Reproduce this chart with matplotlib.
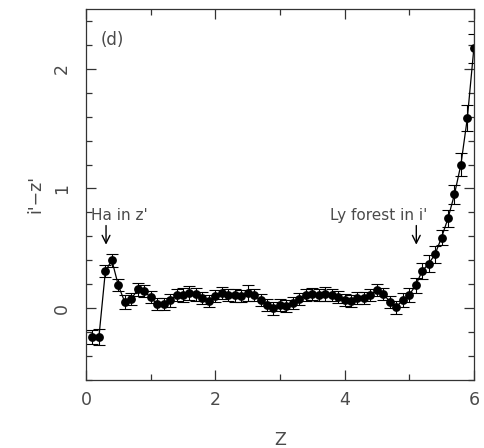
#!/usr/bin/env python3
# -*- coding: utf-8 -*-

import numpy as np
import matplotlib
matplotlib.use("Agg")
import matplotlib.pyplot as plot
from matplotlib.ticker import MultipleLocator

# redshift grid and i'-z' colour
redshift = [round(0.1 * k, 1) for k in range(1, 61)]
colour = [
    -0.24, -0.24, 0.31, 0.40, 0.19, 0.05, 0.075, 0.156, 0.14, 0.09,
    0.033, 0.033, 0.067, 0.106, 0.11, 0.126, 0.116, 0.088, 0.061, 0.10,
    0.124, 0.106, 0.106, 0.10, 0.128, 0.109, 0.064, 0.025, -0.003, 0.025,
    0.017, 0.044, 0.075, 0.106, 0.117, 0.11, 0.12, 0.106, 0.09, 0.064,
    0.056, 0.084, 0.084, 0.11, 0.15, 0.12, 0.053, 0.006, 0.07, 0.11,
    0.19, 0.31, 0.37, 0.45, 0.59, 0.75, 0.95, 1.20, 1.59, 2.17,
]
colour_err = [
    0.06, 0.065, 0.05, 0.055, 0.05, 0.06, 0.05, 0.055, 0.05, 0.05,
    0.05, 0.05, 0.055, 0.05, 0.055, 0.06, 0.055, 0.05, 0.05, 0.05,
    0.05, 0.05, 0.055, 0.05, 0.065, 0.05, 0.05, 0.05, 0.055, 0.05,
    0.05, 0.05, 0.05, 0.05, 0.05, 0.05, 0.06, 0.05, 0.05, 0.05,
    0.05, 0.05, 0.05, 0.05, 0.05, 0.05, 0.05, 0.055, 0.06, 0.06,
    0.065, 0.07, 0.07, 0.07, 0.065, 0.07, 0.08, 0.10, 0.11, 0.12,
]

text_colour = "#4a4a4a"
plot.rcParams["font.family"] = ["DejaVu Sans"]
plot.rcParams["font.size"] = 12.5

fig = plot.figure(figsize=(4.84, 4.48), dpi=100)
ax = fig.add_axes([0.1777, 0.152, 0.8013, 0.828])

ax.errorbar(
    redshift, colour, yerr=colour_err,
    fmt="-o", color="black", lw=0.9, ms=5.3, elinewidth=0.8,
    capsize=4.3, capthick=0.8,
)

ax.set_xlim(0, 6)
ax.set_ylim(-0.6, 2.5)
ax.xaxis.set_major_locator(MultipleLocator(2))
ax.xaxis.set_minor_locator(MultipleLocator(1))
ax.yaxis.set_major_locator(MultipleLocator(1))
ax.yaxis.set_minor_locator(MultipleLocator(0.2))
ax.tick_params(which="both", direction="in", top=True, right=True,
               color="#333333", labelcolor=text_colour)
ax.tick_params(which="major", length=7, width=0.9, pad=8)
ax.tick_params(axis="y", which="major", pad=11)
ax.tick_params(which="minor", length=4, width=0.9)
for label in ax.get_yticklabels():
    label.set_rotation(90)
    label.set_va("center")
for spine in ax.spines.values():
    spine.set_color("#333333")
    spine.set_linewidth(0.9)

ax.set_xlabel("Z", color=text_colour, labelpad=16)
ax.set_ylabel("i'\u2212z'", color=text_colour, labelpad=6)

ax.text(0.22, 2.24, "(d)", color=text_colour, va="center", fontsize=12)
ax.text(0.08, 0.74, "Ha in z'", color=text_colour, va="baseline", fontsize=11)
ax.text(3.77, 0.74, "Ly forest in i'", color=text_colour, va="baseline",
        fontsize=11)
for x_arrow in (0.31, 5.11):
    ax.annotate("", xy=(x_arrow, 0.53), xytext=(x_arrow, 0.69),
                arrowprops=dict(arrowstyle="->", lw=1.0, color="black",
                                mutation_scale=14, shrinkA=0, shrinkB=0))

plot.savefig("out.png", dpi=100)
